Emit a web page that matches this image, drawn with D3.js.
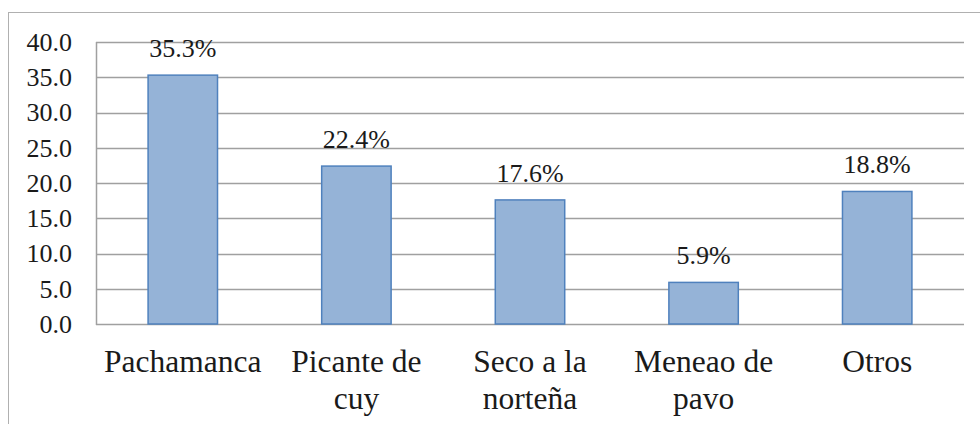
<!DOCTYPE html>
<html lang="es">
<head>
<meta charset="UTF-8">
<title>Platos</title>
<script src="https://d3js.org/d3.v7.min.js"></script>
</head>
<body style="margin:0; background:#fff">
<svg width="980" height="424"></svg>
<script>
    // data
    const categories = [["Pachamanca"], ["Picante de", "cuy"], ["Seco a la", "norteña"], ["Meneao de", "pavo"], ["Otros"]];
    const values = [35.3, 22.4, 17.6, 5.9, 18.8];
    const labels = ["35.3%", "22.4%", "17.6%", "5.9%", "18.8%"];
    const yTicks = [0, 5, 10, 15, 20, 25, 30, 35, 40];

    const FONT = "Liberation Serif";
    const INK = "#1a1a1a";

    const svg = d3.select("svg"),
        margin = {top: 42, right: 16, bottom: 100, left: 96},
        width = 980 - margin.left - margin.right,
        height = 424 - margin.top - margin.bottom;

    // outer frame (right and bottom edges run off the picture)
    svg.append("rect")
        .attr("x", 8.5).attr("y", 12.5)
        .attr("width", 1000).attr("height", 500)
        .attr("fill", "none")
        .attr("stroke", "#b0b0b0")
        .attr("stroke-width", 1);

    const g = svg.append("g").attr("transform", `translate(${margin.left},${margin.top})`);

    const x = d3.scaleBand()
        .domain(d3.range(values.length))
        .range([0, width])
        .paddingInner(0.6)
        .paddingOuter(0.3);

    const y = d3.scaleLinear().domain([0, 40]).range([height, 0]);

    // gridlines
    g.append("g").selectAll("line")
        .data(yTicks)
        .join("line")
        .attr("x1", 0).attr("x2", width)
        .attr("y1", d => Math.round(y(d)) + 0.5)
        .attr("y2", d => Math.round(y(d)) + 0.5)
        .attr("stroke", "#a0a0a0")
        .attr("stroke-width", 1.5);

    // y axis line
    g.append("line")
        .attr("x1", 0.5).attr("x2", 0.5)
        .attr("y1", y(40)).attr("y2", y(0) + 1)
        .attr("stroke", "#a0a0a0")
        .attr("stroke-width", 1.5);

    // y tick labels
    const yAxis = g.append("g")
        .call(d3.axisLeft(y).tickValues(yTicks).tickFormat(d3.format(".1f")).tickSize(0).tickPadding(24));
    yAxis.select(".domain").remove();
    yAxis.selectAll("text")
        .style("font-size", "26px")
        .style("font-family", FONT)
        .style("fill", INK);

    // bars
    g.append("g").selectAll("rect")
        .data(values)
        .join("rect")
        .attr("x", (d, i) => x(i))
        .attr("y", d => y(d))
        .attr("width", x.bandwidth())
        .attr("height", d => y(0) - y(d))
        .attr("fill", "#95b3d7")
        .attr("stroke", "#4f81bd")
        .attr("stroke-width", 1.5);

    // data labels
    g.append("g").selectAll("text")
        .data(values)
        .join("text")
        .attr("x", (d, i) => x(i) + x.bandwidth() / 2)
        .attr("y", d => y(d) - 18)
        .attr("text-anchor", "middle")
        .style("font-family", FONT)
        .style("font-size", "26px")
        .style("fill", INK)
        .text((d, i) => labels[i]);

    // category labels
    const cat = g.append("g").selectAll("text")
        .data(categories)
        .join("text")
        .attr("x", (d, i) => x(i) + x.bandwidth() / 2)
        .attr("y", height + 48)
        .attr("text-anchor", "middle")
        .style("font-family", FONT)
        .style("font-size", "31.5px")
        .style("fill", INK);
    cat.selectAll("tspan")
        .data(d => d)
        .join("tspan")
        .attr("x", function () { return this.parentNode.getAttribute("x"); })
        .attr("dy", (d, i) => i === 0 ? 0 : 36.5)
        .text(d => d);
</script>
</body>
</html>
